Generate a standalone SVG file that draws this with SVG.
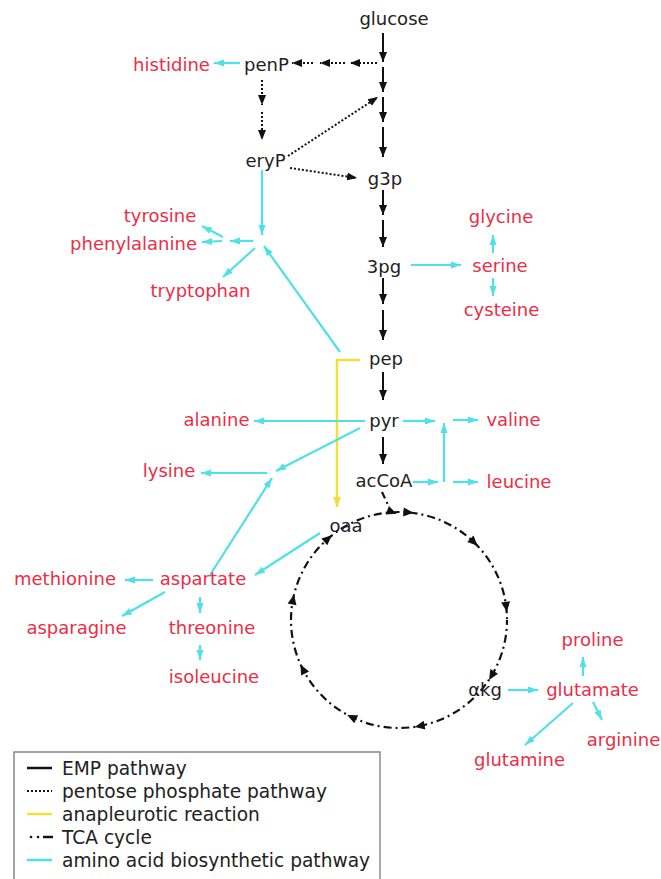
<svg xmlns="http://www.w3.org/2000/svg" xmlns:xlink="http://www.w3.org/1999/xlink" width="661" height="879" viewBox="0 0 661 879">
<style>
text{font-family:"DejaVu Sans","Noto Sans",sans-serif;font-size:18px}
.k{fill:#222}
.r{fill:#ec2d46}
.m{text-anchor:middle}
.e{text-anchor:end}
.emp{stroke:#111;stroke-width:2;fill:none;marker-end:url(#ak)}
.ppp{stroke:#111;stroke-width:2;stroke-dasharray:2,2;fill:none;marker-end:url(#ak)}
.aa{stroke:#50e0e8;stroke-width:2.2;fill:none;marker-end:url(#ac)}
.ana{stroke:#f2e03a;stroke-width:2.5;fill:none;marker-end:url(#ay)}
.tca{stroke:#111;stroke-width:2.2;fill:none;stroke-dasharray:8,4,2,4}
.lg{font-size:18.6px}
</style>
<defs>
<marker id="ak" markerUnits="userSpaceOnUse" markerWidth="12" markerHeight="10" refX="10" refY="5" orient="auto"><path d="M0,1 L10,5 L0,9 Z" fill="#111"/></marker>
<marker id="ac" markerUnits="userSpaceOnUse" markerWidth="12" markerHeight="10" refX="10" refY="5" orient="auto"><path d="M0,1.5 L10,5 L0,8.5 Z" fill="#50e0e8"/></marker>
<marker id="ay" markerUnits="userSpaceOnUse" markerWidth="12" markerHeight="10" refX="10" refY="5" orient="auto"><path d="M0,1 L10,5 L0,9 Z" fill="#f2e03a"/></marker>
<path id="tri" d="M5,0 L-5,-4.5 L-5,4.5 Z" fill="#111"/>
</defs>

<g id="connectors">
<!-- EMP -->
<line class="emp" x1="383" y1="33" x2="383" y2="62"/>
<line class="emp" x1="383" y1="67" x2="383" y2="92"/>
<line class="emp" x1="383" y1="97" x2="383" y2="122"/>
<line class="emp" x1="383" y1="127" x2="383" y2="157"/>
<line class="emp" x1="383" y1="190" x2="383" y2="215"/>
<line class="emp" x1="383" y1="220" x2="383" y2="247"/>
<line class="emp" x1="383" y1="278" x2="383" y2="304"/>
<line class="emp" x1="383" y1="310" x2="383" y2="340"/>
<line class="emp" x1="383" y1="372" x2="383" y2="400"/>
<line class="emp" x1="383" y1="437" x2="383" y2="464"/>
<!-- pentose phosphate -->
<line class="ppp" x1="377" y1="63" x2="350" y2="63"/>
<line class="ppp" x1="345" y1="63" x2="320" y2="63"/>
<line class="ppp" x1="313" y1="63" x2="292" y2="63"/>
<line class="ppp" x1="262" y1="80" x2="262" y2="105"/>
<line class="ppp" x1="262" y1="112" x2="262" y2="140"/>
<line class="ppp" x1="288" y1="156" x2="378" y2="97"/>
<line class="ppp" x1="290" y1="168" x2="357" y2="178"/>
<!-- anapleurotic -->
<polyline class="ana" points="360,360 337,360 337,507"/>
<!-- TCA -->
<circle class="tca" cx="399" cy="620" r="108" style="stroke-dashoffset:3"/>
<line class="tca" x1="382" y1="492" x2="389" y2="507" style="stroke-dasharray:7,4,2,4"/>
<use xlink:href="#tri" transform="translate(392,512) rotate(20)"/>
<use xlink:href="#tri" transform="translate(408.4,512.4) rotate(5)"/>
<use xlink:href="#tri" transform="translate(474,542.3) rotate(44)"/>
<use xlink:href="#tri" transform="translate(506.2,606.8) rotate(83)"/>
<use xlink:href="#tri" transform="translate(491.6,675.6) rotate(121)"/>
<use xlink:href="#tri" transform="translate(419.6,726) rotate(169)"/>
<use xlink:href="#tri" transform="translate(351.7,717.1) rotate(206)"/>
<use xlink:href="#tri" transform="translate(302.8,669) rotate(243)"/>
<use xlink:href="#tri" transform="translate(293,599.4) rotate(281)"/>
<use xlink:href="#tri" transform="translate(328.1,538.5) rotate(319)"/>
<!-- amino acid -->
<line class="aa" x1="240" y1="63" x2="214" y2="63"/>
<line class="aa" x1="262" y1="170" x2="262" y2="235"/>
<line class="aa" x1="253" y1="241" x2="230" y2="241"/>
<line class="aa" x1="222" y1="241" x2="202" y2="242"/>
<line class="aa" x1="223" y1="237" x2="202" y2="226"/>
<line class="aa" x1="255" y1="248" x2="223" y2="277"/>
<line class="aa" x1="340" y1="352" x2="264" y2="246"/>
<line class="aa" x1="411" y1="265" x2="461" y2="265"/>
<line class="aa" x1="493" y1="253" x2="493" y2="235"/>
<line class="aa" x1="493" y1="278" x2="493" y2="296"/>
<line class="aa" x1="365" y1="421" x2="254" y2="421"/>
<line class="aa" x1="403" y1="421" x2="435" y2="421"/>
<line class="aa" x1="413" y1="482" x2="438" y2="482"/>
<line class="aa" x1="444" y1="482" x2="444" y2="423"/>
<line class="aa" x1="453" y1="420" x2="478" y2="420"/>
<line class="aa" x1="453" y1="482" x2="478" y2="482"/>
<line class="aa" x1="360" y1="428" x2="276" y2="471"/>
<line class="aa" x1="267" y1="473" x2="201" y2="473"/>
<line class="aa" x1="210" y1="575" x2="272" y2="478"/>
<line class="aa" x1="320" y1="533" x2="255" y2="575"/>
<line class="aa" x1="153" y1="580" x2="125" y2="580"/>
<line class="aa" x1="165" y1="592" x2="122" y2="616"/>
<line class="aa" x1="200" y1="597" x2="200" y2="613"/>
<line class="aa" x1="200" y1="645" x2="200" y2="660"/>
<line class="aa" x1="508" y1="690" x2="538" y2="690"/>
<line class="aa" x1="583" y1="676" x2="583" y2="657"/>
<line class="aa" x1="593" y1="702" x2="602" y2="720"/>
<line class="aa" x1="573" y1="703" x2="525" y2="745"/>
</g>

<g id="glucose"><text class="k m" x="394" y="25">glucose</text></g>
<g id="penP"><text class="k m" x="266.5" y="71">penP</text></g>
<g id="histidine"><text class="r m" x="171.5" y="71">histidine</text></g>
<g id="eryP"><text class="k m" x="265.5" y="167">eryP</text></g>
<g id="g3p"><text class="k m" x="385" y="185">g3p</text></g>
<g id="tyrosine"><text class="r m" x="160" y="222">tyrosine</text></g>
<g id="phenylalanine"><text class="r e" x="197" y="250">phenylalanine</text></g>
<g id="tryptophan"><text class="r m" x="200.5" y="297">tryptophan</text></g>
<g id="3pg"><text class="k m" x="384" y="273">3pg</text></g>
<g id="glycine"><text class="r m" x="501" y="223">glycine</text></g>
<g id="serine"><text class="r m" x="500" y="272">serine</text></g>
<g id="cysteine"><text class="r m" x="501.5" y="316">cysteine</text></g>
<g id="pep"><text class="k m" x="386" y="365">pep</text></g>
<g id="pyr"><text class="k m" x="384" y="427">pyr</text></g>
<g id="alanine"><text class="r m" x="216.5" y="426">alanine</text></g>
<g id="valine"><text class="r m" x="513.5" y="426">valine</text></g>
<g id="acCoA"><text class="k m" x="384" y="487">acCoA</text></g>
<g id="leucine"><text class="r m" x="519" y="488">leucine</text></g>
<g id="lysine"><text class="r m" x="169" y="477">lysine</text></g>
<g id="oaa"><text class="k m" x="346" y="532">oaa</text></g>
<g id="aspartate"><text class="r m" x="203" y="585">aspartate</text></g>
<g id="methionine"><text class="r m" x="65" y="585">methionine</text></g>
<g id="asparagine"><text class="r m" x="76.5" y="634">asparagine</text></g>
<g id="threonine"><text class="r m" x="212" y="634">threonine</text></g>
<g id="isoleucine"><text class="r m" x="214" y="683">isoleucine</text></g>
<g id="akg"><text class="k m" x="485" y="696">αkg</text></g>
<g id="glutamate"><text class="r m" x="592.5" y="696">glutamate</text></g>
<g id="proline"><text class="r m" x="592.5" y="646">proline</text></g>
<g id="arginine"><text class="r m" x="623.5" y="746">arginine</text></g>
<g id="glutamine"><text class="r m" x="519.5" y="766">glutamine</text></g>

<g id="legend">
<rect x="14" y="752" width="366" height="140" fill="none" stroke="#888" stroke-width="1.5"/>
<line x1="27" y1="768" x2="52" y2="768" stroke="#111" stroke-width="2.5"/>
<line x1="27" y1="791" x2="52" y2="791" stroke="#111" stroke-width="2" stroke-dasharray="2,2"/>
<line x1="27" y1="814" x2="52" y2="814" stroke="#f2e03a" stroke-width="2.5"/>
<circle cx="31" cy="837" r="1.3" fill="#111"/>
<circle cx="38" cy="837" r="1.3" fill="#111"/>
<line x1="43" y1="837" x2="53" y2="837" stroke="#111" stroke-width="2.5"/>
<line x1="27" y1="860" x2="52" y2="860" stroke="#50e0e8" stroke-width="2.5"/>
<text class="k lg" x="62" y="775">EMP pathway</text>
<text class="k lg" x="62" y="798">pentose phosphate pathway</text>
<text class="k lg" x="62" y="821">anapleurotic reaction</text>
<text class="k lg" x="62" y="844">TCA cycle</text>
<text class="k lg" x="62" y="867">amino acid biosynthetic pathway</text>
</g>
</svg>
